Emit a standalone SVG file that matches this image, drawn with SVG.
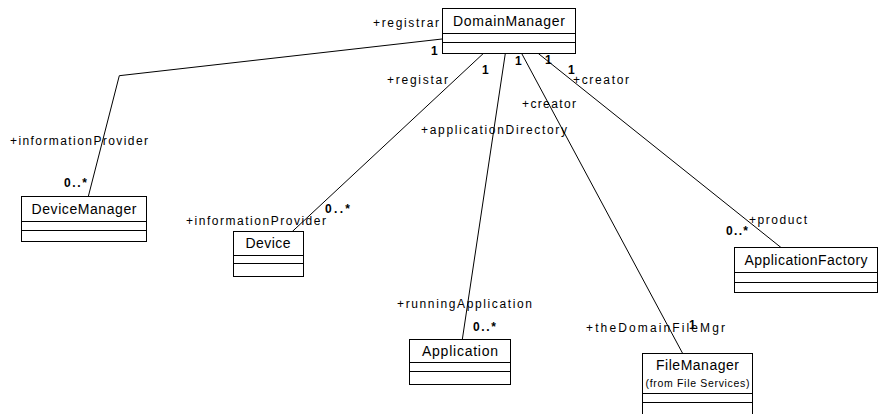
<svg xmlns="http://www.w3.org/2000/svg" width="879" height="414" viewBox="0 0 879 414">
<style>
.box{fill:#fff;stroke:#000;stroke-width:1}
.sep{stroke:#000;stroke-width:1}
.cn{font-family:"Liberation Sans",Arial,sans-serif;font-size:14px;fill:#000;text-anchor:middle}
.sub{font-family:"Liberation Sans",Arial,sans-serif;font-size:10.5px;fill:#000;text-anchor:middle}
.lb{font-family:"Liberation Sans",Arial,sans-serif;font-size:12px;fill:#000}
.m{font-family:"Liberation Sans",Arial,sans-serif;font-size:12px;font-weight:bold;fill:#000}
.ln{fill:none;stroke:#000;stroke-width:1}
</style>
<rect width="879" height="414" fill="#fff"/>
<g id="connectors">
<polyline class="ln" points="442,39 119.3,75.7 88.3,196.5"/>
<line class="ln" x1="483.3" y1="53.5" x2="292.3" y2="231.5"/>
<line class="ln" x1="505.3" y1="53.5" x2="462.3" y2="339.5"/>
<line class="ln" x1="521.7" y1="53.5" x2="682.7" y2="353.5"/>
<line class="ln" x1="538.3" y1="53.5" x2="781" y2="247.5"/>
</g>
<g id="labels">
<text class="lb" x="373" y="27" textLength="66" lengthAdjust="spacing">+registrar</text>
<text class="m" x="431" y="55">1</text>
<text class="lb" x="10" y="145" textLength="138" lengthAdjust="spacing">+informationProvider</text>
<text class="m" x="64" y="187" textLength="23" lengthAdjust="spacing">0..*</text>
<text class="lb" x="387" y="84" textLength="61" lengthAdjust="spacing">+registar</text>
<text class="m" x="482" y="74">1</text>
<text class="lb" x="186" y="225" textLength="140" lengthAdjust="spacing">+informationProvider</text>
<text class="m" x="325" y="213" textLength="25" lengthAdjust="spacing">0..*</text>
<text class="m" x="515" y="65">1</text>
<text class="lb" x="421" y="133.5" textLength="146" lengthAdjust="spacing">+applicationDirectory</text>
<text class="lb" x="397" y="307.5" textLength="135" lengthAdjust="spacing">+runningApplication</text>
<text class="m" x="473" y="331" textLength="23" lengthAdjust="spacing">0..*</text>
<text class="m" x="545" y="64">1</text>
<text class="lb" x="522" y="108" textLength="54" lengthAdjust="spacing">+creator</text>
<text class="lb" x="586" y="332" textLength="139" lengthAdjust="spacing">+theDomainFileMgr</text>
<text class="m" x="689" y="329">1</text>
<text class="m" x="568" y="74">1</text>
<text class="lb" x="573" y="84" textLength="56" lengthAdjust="spacing">+creator</text>
<text class="lb" x="749" y="223.5" textLength="58" lengthAdjust="spacing">+product</text>
<text class="m" x="726" y="235" textLength="22" lengthAdjust="spacing">0..*</text>
</g>
<g id="DomainManager">
<rect class="box" x="442.5" y="8.5" width="133" height="45"/>
<line class="sep" x1="442.5" y1="33.5" x2="575.5" y2="33.5"/>
<line class="sep" x1="442.5" y1="42.5" x2="575.5" y2="42.5"/>
<text class="cn" x="509" y="26" textLength="112" lengthAdjust="spacing">DomainManager</text>
</g>
<g id="DeviceManager">
<rect class="box" x="21.5" y="196.5" width="125" height="45"/>
<line class="sep" x1="21.5" y1="221.5" x2="146.5" y2="221.5"/>
<line class="sep" x1="21.5" y1="230.5" x2="146.5" y2="230.5"/>
<text class="cn" x="84" y="213.5" textLength="105" lengthAdjust="spacing">DeviceManager</text>
</g>
<g id="Device">
<rect class="box" x="233.5" y="231.5" width="70" height="45"/>
<line class="sep" x1="233.5" y1="255.5" x2="303.5" y2="255.5"/>
<line class="sep" x1="233.5" y1="263.5" x2="303.5" y2="263.5"/>
<text class="cn" x="268" y="248" textLength="45" lengthAdjust="spacing">Device</text>
</g>
<g id="Application">
<rect class="box" x="409.5" y="339.5" width="101" height="45"/>
<line class="sep" x1="409.5" y1="362.5" x2="510.5" y2="362.5"/>
<line class="sep" x1="409.5" y1="371.5" x2="510.5" y2="371.5"/>
<text class="cn" x="460" y="356" textLength="76" lengthAdjust="spacing">Application</text>
</g>
<g id="ApplicationFactory">
<rect class="box" x="734.5" y="247.5" width="143" height="45"/>
<line class="sep" x1="734.5" y1="272.5" x2="877.5" y2="272.5"/>
<line class="sep" x1="734.5" y1="282.5" x2="877.5" y2="282.5"/>
<text class="cn" x="806" y="265" textLength="123" lengthAdjust="spacing">ApplicationFactory</text>
</g>
<g id="FileManager">
<rect class="box" x="642.5" y="353.5" width="110" height="70"/>
<line class="sep" x1="642.5" y1="393.5" x2="752.5" y2="393.5"/>
<line class="sep" x1="642.5" y1="402.5" x2="752.5" y2="402.5"/>
<text class="cn" x="697.5" y="370" textLength="83" lengthAdjust="spacing">FileManager</text>
<text class="sub" x="697.5" y="387" textLength="104" lengthAdjust="spacing">(from File Services)</text>
</g>
</svg>
